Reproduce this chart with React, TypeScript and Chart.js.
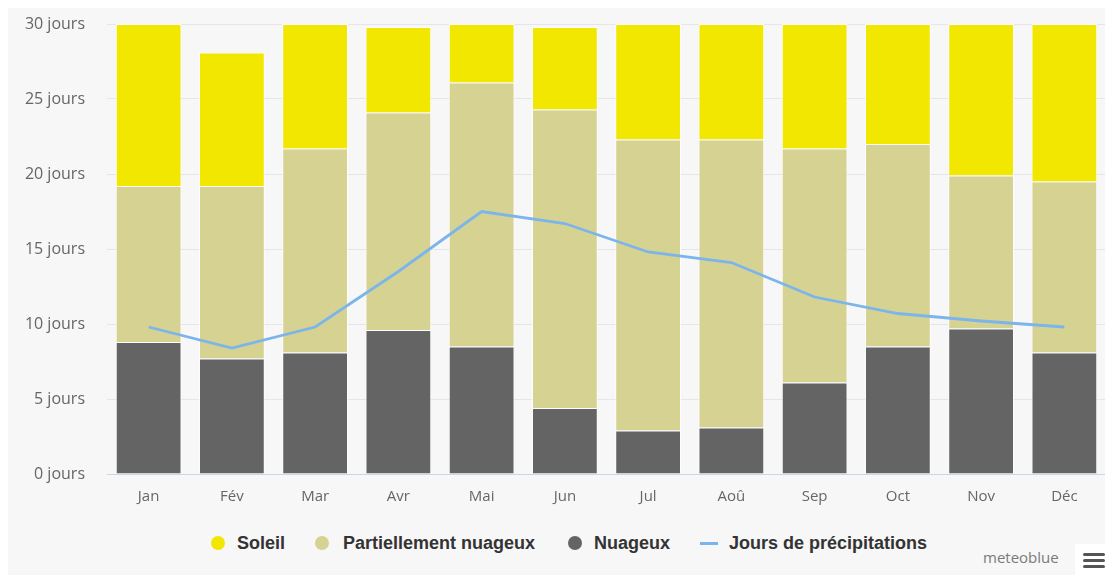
import React, { useEffect, useRef } from "react";
import { Chart, registerables } from "chart.js";

Chart.register(...registerables);

// Monthly sky conditions (days) and precipitation days
const months = ["Jan", "Fév", "Mar", "Avr", "Mai", "Jun", "Jul", "Aoû", "Sep", "Oct", "Nov", "Déc"];
const nuageux = [8.8, 7.7, 8.1, 9.6, 8.5, 4.4, 2.9, 3.1, 6.1, 8.5, 9.7, 8.1];
const partiellementNuageux = [10.4, 11.5, 13.6, 14.5, 17.6, 19.9, 19.4, 19.2, 15.6, 13.5, 10.2, 11.4];
const soleil = [10.8, 8.9, 8.3, 5.7, 3.9, 5.5, 7.7, 7.7, 8.3, 8.0, 10.1, 10.5];
const joursPrecipitations = [9.8, 8.4, 9.8, 13.5, 17.5, 16.7, 14.8, 14.1, 11.8, 10.7, 10.2, 9.8];
const yTicks = [0, 5, 10, 15, 20, 25, 30];

const COLORS = {
  soleil: "#f2e700",
  partiel: "#d6d292",
  nuageux: "#646464",
  precip: "#7cb5ec",
};

const legendFont = '"Liberation Sans", Arial, sans-serif';

export default function App() {
  const canvasRef = useRef<HTMLCanvasElement | null>(null);

  useEffect(() => {
    if (!canvasRef.current) return;
    const chart = new Chart(canvasRef.current, {
      data: {
        labels: months,
        datasets: [
          {
            type: "line",
            label: "Jours de précipitations",
            data: joursPrecipitations,
            borderColor: COLORS.precip,
            borderWidth: 2.8,
            pointRadius: 0,
            tension: 0,
            stack: "precip",
            order: 0,
          },
          {
            type: "bar",
            label: "Nuageux",
            data: nuageux,
            backgroundColor: COLORS.nuageux,
            borderColor: "rgba(255,255,255,0.85)",
            borderWidth: 1,
            stack: "ciel",
            order: 1,
          },
          {
            type: "bar",
            label: "Partiellement nuageux",
            data: partiellementNuageux,
            backgroundColor: COLORS.partiel,
            borderColor: "rgba(255,255,255,0.85)",
            borderWidth: 1,
            stack: "ciel",
            order: 1,
          },
          {
            type: "bar",
            label: "Soleil",
            data: soleil,
            backgroundColor: COLORS.soleil,
            borderColor: "rgba(255,255,255,0.85)",
            borderWidth: 1,
            stack: "ciel",
            order: 1,
          },
        ],
      },
      options: {
        animation: false,
        responsive: true,
        maintainAspectRatio: false,
        layout: { padding: { left: 0, right: 4, top: 18, bottom: 0 } },
        datasets: {
          bar: { categoryPercentage: 1, barPercentage: 0.79 },
        },
        plugins: {
          legend: { display: false },
          tooltip: { enabled: false },
        },
        scales: {
          x: {
            stacked: true,
            grid: { display: false },
            border: { display: true, color: "#ccd6eb", width: 1 },
            ticks: {
              color: "#666666",
              font: { family: '"Open Sans", sans-serif', size: 15 },
              padding: 6,
              maxRotation: 0,
            },
            afterFit: (scale: any) => {
              scale.height = 52;
            },
          },
          y: {
            stacked: true,
            min: 0,
            max: 30,
            afterBuildTicks: (scale: any) => {
              scale.ticks = yTicks.map((v) => ({ value: v }));
            },
            grid: {
              color: "#e6e6e6",
              lineWidth: 1,
              drawTicks: true,
              tickLength: 22,
              tickColor: "rgba(0,0,0,0)",
            },
            border: { display: false },
            ticks: {
              color: "#666666",
              font: { family: '"Open Sans", sans-serif', size: 16 },
              padding: 0,
              callback: (v: any) => `${v} jours`,
            },
            afterFit: (scale: any) => {
              scale.width = 99;
            },
          },
        },
      },
    });
    return () => chart.destroy();
  }, []);

  const legendItems = [
    { label: "Soleil", color: COLORS.soleil, marker: 210, text: 229, kind: "dot" },
    { label: "Partiellement nuageux", color: COLORS.partiel, marker: 314, text: 335, kind: "dot" },
    { label: "Nuageux", color: COLORS.nuageux, marker: 567, text: 586, kind: "dot" },
    { label: "Jours de précipitations", color: COLORS.precip, marker: 701, text: 721, kind: "line" },
  ];

  return (
    <div
      style={{
        position: "relative",
        width: 1102,
        height: 569,
        marginTop: -2,
        background: "#f7f7f7",
        overflow: "hidden",
      }}
    >
      <div style={{ position: "absolute", left: 0, top: 0, width: 1102, height: 520 }}>
        <canvas ref={canvasRef} />
      </div>
      {legendItems.map((it) => (
        <React.Fragment key={it.label}>
          {it.kind === "dot" ? (
            <div
              style={{
                position: "absolute",
                left: it.marker - 7,
                top: 537 - 7,
                width: 14,
                height: 14,
                borderRadius: "50%",
                background: it.color,
              }}
            />
          ) : (
            <div
              style={{
                position: "absolute",
                left: it.marker - 9,
                top: 536,
                width: 18,
                height: 3,
                background: it.color,
              }}
            />
          )}
          <div
            style={{
              position: "absolute",
              left: it.text,
              top: 537,
              transform: "translateY(-50%)",
              fontFamily: legendFont,
              fontWeight: "bold",
              fontSize: 18,
              color: "#333333",
              whiteSpace: "nowrap",
              lineHeight: 1,
            }}
          >
            {it.label}
          </div>
        </React.Fragment>
      ))}
      <div
        style={{
          position: "absolute",
          left: 975,
          top: 551,
          transform: "translateY(-50%)",
          fontFamily: '"Open Sans", sans-serif',
          fontSize: 15,
          color: "#7a7a7a",
          lineHeight: 1,
        }}
      >
        meteoblue
      </div>
      <div
        style={{
          position: "absolute",
          left: 1067,
          top: 538,
          width: 40,
          height: 31,
          background: "#ffffff",
        }}
      >
        {[0, 1, 2].map((i) => (
          <div
            key={i}
            style={{
              position: "absolute",
              left: 8,
              top: 9 + i * 6,
              width: 22,
              height: 3,
              borderRadius: 1.5,
              background: "#555555",
            }}
          />
        ))}
      </div>
    </div>
  );
}
